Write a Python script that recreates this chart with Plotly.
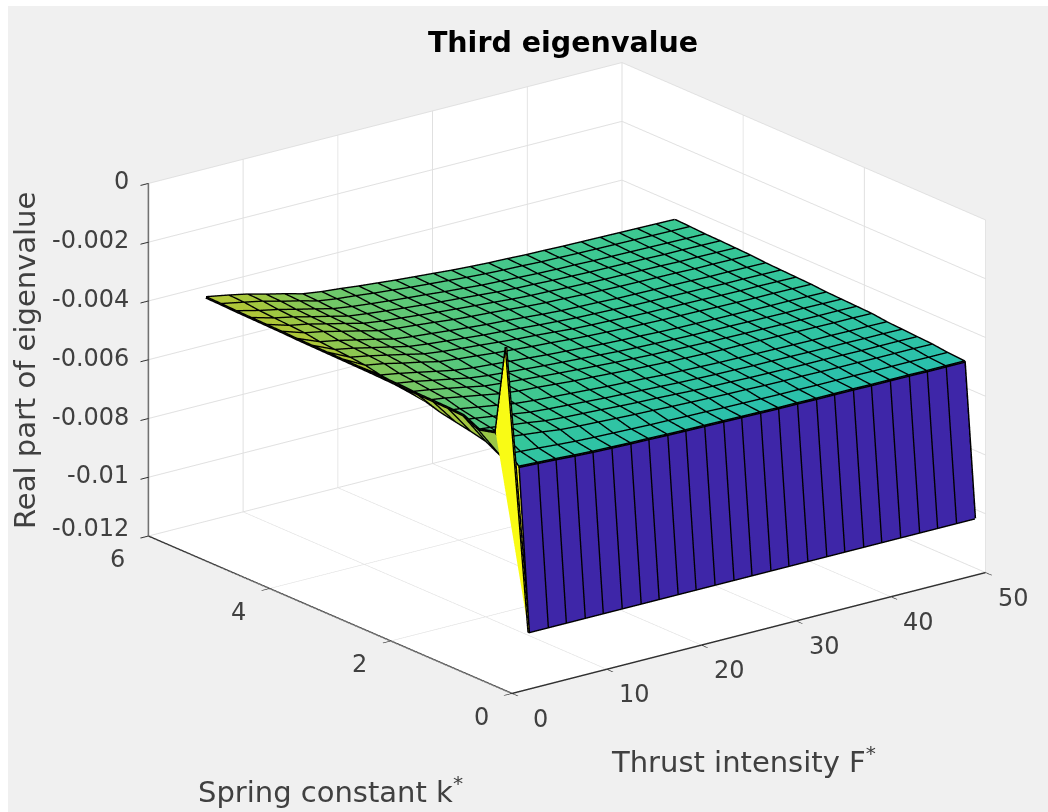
import plotly.graph_objects as go

title = "Third eigenvalue"
xtitle = "Thrust intensity F<sup>*</sup>"
ytitle = "Spring constant k<sup>*</sup>"
ztitle = "Real part of eigenvalue"

thrust = [0, 2.4, 4.4, 6.3, 8.3, 10.2, 12.2, 14.2, 16.1, 18.1, 20, 22, 24, 25.9, 27.9, 29.8, 31.8, 33.8, 35.7, 37.7, 39.6, 41.6, 43.6, 45.5, 47.5, 49.5]
spring = [0.1, 0.27, 0.55, 0.8, 1.05, 1.3, 1.55, 1.8, 2.05, 2.3, 2.55, 2.8, 3.05, 3.3, 3.55, 3.8, 4.05, 4.3, 4.55, 4.8, 5.05]

# eigenvalue (in units of 1e-3), one row per spring constant, one entry per thrust
row_010 = [-0.3] + [-10.2] * 25
row_027 = [-3.35, -4.73, -4.76, -4.79, -4.83, -4.86, -4.88, -4.90, -4.91, -4.93, -4.94, -4.95, -4.96, -4.97, -4.98, -4.99, -4.99, -5.00, -5.00, -5.00, -5.01, -5.01, -5.01, -5.02, -5.02, -5.02]
row_055 = [-3.50, -4.60, -4.64, -4.68, -4.73, -4.77, -4.80, -4.82, -4.84, -4.86, -4.87, -4.89, -4.90, -4.92, -4.93, -4.94, -4.95, -4.95, -4.96, -4.96, -4.96, -4.97, -4.97, -4.97, -4.98, -4.98]
row_080 = [-3.25, -4.32, -4.38, -4.45, -4.52, -4.60, -4.64, -4.67, -4.70, -4.73, -4.75, -4.78, -4.80, -4.82, -4.84, -4.85, -4.87, -4.88, -4.88, -4.89, -4.90, -4.90, -4.91, -4.91, -4.91, -4.92]
row_105 = [-3.22, -4.20, -4.27, -4.35, -4.43, -4.52, -4.57, -4.60, -4.63, -4.67, -4.70, -4.72, -4.75, -4.78, -4.80, -4.81, -4.83, -4.84, -4.85, -4.86, -4.86, -4.87, -4.88, -4.88, -4.88, -4.89]
row_130 = [-3.21, -4.10, -4.18, -4.27, -4.36, -4.45, -4.50, -4.54, -4.58, -4.62, -4.65, -4.68, -4.71, -4.74, -4.76, -4.78, -4.79, -4.81, -4.81, -4.82, -4.83, -4.84, -4.84, -4.85, -4.85, -4.86]
row_155 = [-3.20, -4.00, -4.08, -4.18, -4.28, -4.38, -4.44, -4.48, -4.52, -4.56, -4.60, -4.63, -4.66, -4.70, -4.72, -4.74, -4.76, -4.77, -4.78, -4.79, -4.80, -4.81, -4.81, -4.82, -4.82, -4.83]
row_180 = [-3.17, -3.85, -3.94, -4.05, -4.16, -4.27, -4.34, -4.38, -4.43, -4.48, -4.51, -4.55, -4.59, -4.62, -4.65, -4.67, -4.69, -4.71, -4.71, -4.72, -4.73, -4.74, -4.75, -4.76, -4.76, -4.77]
row_205 = [-3.16, -3.78, -3.88, -3.99, -4.11, -4.23, -4.29, -4.34, -4.39, -4.44, -4.48, -4.52, -4.56, -4.59, -4.62, -4.64, -4.66, -4.68, -4.69, -4.70, -4.71, -4.72, -4.73, -4.74, -4.74, -4.75]
row_230 = [-3.16, -3.72, -3.82, -3.94, -4.06, -4.18, -4.26, -4.31, -4.36, -4.41, -4.45, -4.49, -4.53, -4.57, -4.60, -4.62, -4.64, -4.66, -4.67, -4.68, -4.69, -4.70, -4.71, -4.71, -4.72, -4.73]
row_255 = [-3.15, -3.66, -3.77, -3.89, -4.02, -4.14, -4.22, -4.27, -4.32, -4.37, -4.42, -4.46, -4.50, -4.54, -4.57, -4.59, -4.62, -4.64, -4.65, -4.66, -4.67, -4.68, -4.69, -4.69, -4.70, -4.71]
row_280 = [-3.14, -3.55, -3.66, -3.80, -3.93, -4.07, -4.14, -4.20, -4.26, -4.31, -4.36, -4.40, -4.45, -4.49, -4.52, -4.55, -4.57, -4.59, -4.60, -4.61, -4.63, -4.64, -4.65, -4.65, -4.66, -4.67]
row_305 = [-3.13, -3.50, -3.62, -3.75, -3.89, -4.03, -4.11, -4.17, -4.22, -4.28, -4.33, -4.37, -4.42, -4.47, -4.50, -4.52, -4.55, -4.57, -4.58, -4.59, -4.60, -4.62, -4.63, -4.63, -4.64, -4.65]
row_330 = [-3.12, -3.46, -3.58, -3.72, -3.86, -4.00, -4.08, -4.14, -4.20, -4.26, -4.30, -4.35, -4.40, -4.44, -4.48, -4.50, -4.52, -4.55, -4.56, -4.57, -4.58, -4.59, -4.61, -4.61, -4.62, -4.63]
row_355 = [-3.11, -3.42, -3.54, -3.68, -3.82, -3.97, -4.05, -4.11, -4.17, -4.23, -4.28, -4.32, -4.37, -4.42, -4.46, -4.48, -4.50, -4.53, -4.54, -4.55, -4.56, -4.57, -4.59, -4.59, -4.60, -4.61]
row_380 = [-3.09, -3.34, -3.46, -3.61, -3.76, -3.91, -3.99, -4.05, -4.11, -4.18, -4.23, -4.27, -4.32, -4.37, -4.41, -4.43, -4.46, -4.48, -4.50, -4.51, -4.52, -4.53, -4.55, -4.55, -4.56, -4.57]
row_405 = [-3.08, -3.31, -3.43, -3.58, -3.73, -3.88, -3.97, -4.03, -4.09, -4.15, -4.20, -4.25, -4.30, -4.35, -4.39, -4.41, -4.44, -4.46, -4.48, -4.49, -4.50, -4.51, -4.53, -4.53, -4.54, -4.55]
row_430 = [-3.07, -3.28, -3.41, -3.56, -3.71, -3.86, -3.94, -4.01, -4.07, -4.13, -4.18, -4.23, -4.28, -4.33, -4.37, -4.39, -4.42, -4.44, -4.46, -4.47, -4.48, -4.49, -4.51, -4.51, -4.52, -4.53]
row_455 = [-3.06, -3.25, -3.38, -3.53, -3.68, -3.83, -3.92, -3.99, -4.05, -4.11, -4.16, -4.22, -4.27, -4.32, -4.35, -4.38, -4.41, -4.43, -4.44, -4.46, -4.47, -4.48, -4.49, -4.50, -4.51, -4.52]
row_480 = [-3.04, -3.19, -3.32, -3.48, -3.63, -3.79, -3.88, -3.94, -4.01, -4.07, -4.13, -4.18, -4.23, -4.28, -4.32, -4.35, -4.37, -4.40, -4.41, -4.43, -4.44, -4.45, -4.46, -4.47, -4.48, -4.49]
row_505 = [-3.03, -3.17, -3.30, -3.46, -3.61, -3.77, -3.86, -3.92, -3.99, -4.05, -4.11, -4.16, -4.21, -4.26, -4.30, -4.33, -4.35, -4.38, -4.39, -4.41, -4.42, -4.43, -4.44, -4.45, -4.46, -4.47]

rows = [row_010, row_027, row_055, row_080, row_105, row_130, row_155, row_180, row_205, row_230, row_255,
        row_280, row_305, row_330, row_355, row_380, row_405, row_430, row_455, row_480, row_505]

xticks = [0, 10, 20, 30, 40, 50]
yticks = [0, 2, 4, 6]
zticks = [-0.012, -0.01, -0.008, -0.006, -0.004, -0.002, 0]
zticktext = ["-0.012", "-0.01", "-0.008", "-0.006", "-0.004", "-0.002", "0"]

parula = [
    [0.0, "rgb(62,38,168)"], [0.143, "rgb(72,82,244)"], [0.286, "rgb(46,135,247)"],
    [0.429, "rgb(18,177,214)"], [0.571, "rgb(55,200,151)"], [0.714, "rgb(171,199,57)"],
    [0.857, "rgb(254,195,56)"], [1.0, "rgb(249,251,21)"],
]

nk, nf = len(spring), len(thrust)
vx, vy, vz, ti, tj, tk, cell = [], [], [], [], [], [], []
for j in range(nk):
    for i in range(nf):
        vx.append(thrust[i]); vy.append(spring[j]); vz.append(rows[j][i] * 1e-3)
for j in range(nk - 1):
    for i in range(nf - 1):
        a = j * nf + i
        b, c, d = a + 1, a + nf + 1, a + nf
        ti += [a, b]; tj += [b, c]; tk += [d, d]
        cell += [rows[j][i] * 1e-3] * 2

ex, ey, ez = [], [], []
for j in range(nk):
    for i in range(nf):
        ex.append(thrust[i]); ey.append(spring[j]); ez.append(rows[j][i] * 1e-3)
    ex.append(None); ey.append(None); ez.append(None)
for i in range(nf):
    for j in range(nk):
        ex.append(thrust[i]); ey.append(spring[j]); ez.append(rows[j][i] * 1e-3)
    ex.append(None); ey.append(None); ez.append(None)

fig = go.Figure()
fig.add_trace(go.Mesh3d(
    x=vx, y=vy, z=vz, i=ti, j=tj, k=tk, intensity=cell, intensitymode="cell",
    colorscale=parula, cmin=-0.0102, cmax=-0.0003, showscale=False, flatshading=True,
    lighting=dict(ambient=1, diffuse=0, specular=0, fresnel=0, roughness=1), hoverinfo="skip",
))
fig.add_trace(go.Scatter3d(x=ex, y=ey, z=ez, mode="lines", line=dict(color="black", width=5.5),
                           hoverinfo="skip", showlegend=False))

W, H = 1040, 806
def px(x): return (x - 8) / W
def py(y): return 1 - (y - 6) / H

tick_font = dict(family="DejaVu Sans", size=24, color="#404040")
title_font = dict(family="DejaVu Sans", size=29, color="#404040")

tick_labels = []
for v in xticks:
    tick_labels.append(dict(x=v, y=0, z=-0.012, text=str(v), showarrow=False, xanchor="center", yanchor="middle",
                            xshift=28, yshift=-25, font=tick_font))
for v in yticks:
    tick_labels.append(dict(x=0, y=v, z=-0.012, text=str(v), showarrow=False, xanchor="center", yanchor="middle",
                            xshift=-31, yshift=-23, font=tick_font))
for v, t in zip(zticks, zticktext):
    tick_labels.append(dict(x=0, y=6, z=v, text=t, showarrow=False, xanchor="right", yanchor="middle",
                            xshift=-18, yshift=8 if v == -0.012 else 2, font=tick_font))

axis = dict(showbackground=True, backgroundcolor="white", gridcolor="#e0e0e0", gridwidth=2,
            showline=True, linecolor="#303030", linewidth=3, ticks="outside", tickcolor="#303030",
            ticklen=10, tickwidth=2, zeroline=False, showspikes=False, title=dict(text=""), showticklabels=False)
fig.update_layout(
    width=W, height=H, autosize=False,
    margin=dict(l=0, r=0, t=0, b=0),
    paper_bgcolor="#f0f0f0",
    title=dict(text="<b>" + title + "</b>", x=px(563), y=py(42), xanchor="center", yanchor="middle",
               font=dict(family="DejaVu Sans", size=28.5, color="black")),
    scene=dict(
        domain=dict(x=[0.08, 0.995], y=[0.0766, 1.0]),
        bgcolor="#f0f0f0",
        xaxis=dict(axis, range=[0, 50], tickvals=xticks),
        yaxis=dict(axis, range=[0, 6], tickvals=yticks),
        zaxis=dict(axis, range=[-0.012, 0], tickvals=zticks),
        aspectmode="manual", aspectratio=dict(x=1.605, y=1.605, z=1.005),
        camera=dict(eye=dict(x=-1.723, y=-2.244, z=0.997), up=dict(x=0, y=0, z=1),
                    center=dict(x=0, y=0, z=0), projection=dict(type="orthographic")),
        annotations=tick_labels,
    ),
    annotations=[
        dict(text=xtitle, x=px(743), y=py(760), xref="paper", yref="paper", showarrow=False,
             xanchor="center", yanchor="middle", font=title_font),
        dict(text=ytitle, x=px(330), y=py(790), xref="paper", yref="paper", showarrow=False,
             xanchor="center", yanchor="middle", font=title_font),
        dict(text=ztitle, x=px(25), y=py(361), xref="paper", yref="paper", showarrow=False, textangle=-90,
             xanchor="center", yanchor="middle", font=title_font),
    ],
)
fig.write_html("out.html", post_script="document.body.style.margin='6px 0 0 8px';document.documentElement.style.overflow='hidden';")
